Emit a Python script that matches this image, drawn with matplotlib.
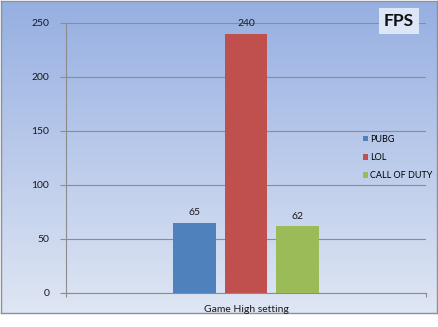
import numpy as np
import matplotlib
matplotlib.use("Agg")
import matplotlib.pyplot as plt
from matplotlib.colors import LinearSegmentedColormap

# Data
category = "Game High setting"
series_names = ["PUBG", "LOL", "CALL OF DUTY"]
series_values = [65, 240, 62]
series_colors = ["#4f81bd", "#c0504d", "#9bbb59"]
y_ticks = [0, 50, 100, 150, 200, 250]
title = "FPS"

plt.rcParams['font.family'] = ['Lato', 'DejaVu Sans']

W, H = 439, 327
fig = plt.figure(figsize=(W / 100, H / 100), dpi=100)
fig.patch.set_facecolor("white")

# Background gradient panel with border
bx0, by0, bx1, by1 = 1, 1, 437, 313  # pixel box (top-left origin)
bg = fig.add_axes([bx0 / W, 1 - by1 / H, (bx1 - bx0) / W, (by1 - by0) / H], zorder=0)
cmap = LinearSegmentedColormap.from_list("g", ["#96afe1", "#dfe6f4"])
grad = np.linspace(0, 1, 256).reshape(-1, 1)
bg.imshow(grad, aspect="auto", cmap=cmap, extent=[0, 1, 0, 1], origin="upper")
bg.set_xticks([]); bg.set_yticks([])
for s in bg.spines.values():
    s.set_color("#8c9099"); s.set_linewidth(1.0)

# Plot axes
px0, px1 = 66, 426
py_top, py_bot = 23, 293
ax = fig.add_axes([px0 / W, 1 - py_bot / H, (px1 - px0) / W, (py_bot - py_top) / H], zorder=1)
ax.patch.set_alpha(0)

width = 0.119
step = 0.142
n = len(series_values)
for i, (name, v, c) in enumerate(zip(series_names, series_values, series_colors)):
    x = (i - (n - 1) / 2) * step
    ax.bar(x, v, width=width, color=c, label=name, zorder=3)
    ax.text(x, v + 5, str(v), ha="center", va="bottom", fontsize=7.5, color="#1a1a1a", zorder=4)

ax.set_xlim(-0.5, 0.5)
ax.set_ylim(0, 250)
ax.set_yticks(y_ticks)
ax.set_yticklabels([str(t) for t in y_ticks], fontsize=7.5, color="#1a1a1a")
ax.set_xticks([-0.5, 0.5])
ax.set_xticklabels(["", ""])
ax.tick_params(axis="y", length=4, color="#8c8c8c", width=0.8, pad=8)
ax.tick_params(axis="x", length=3, color="#8c8c8c", width=0.8)
ax.text(0.0, -0.045, category, transform=ax.get_xaxis_transform(), ha="center", va="top",
        fontsize=7.5, color="#1a1a1a")
ax.grid(axis="y", color="#8c8c8c", linewidth=0.8, zorder=1)
for side in ["top", "right"]:
    ax.spines[side].set_visible(False)
for side in ["left", "bottom"]:
    ax.spines[side].set_color("#8c8c8c"); ax.spines[side].set_linewidth(0.8)

leg = ax.legend(loc="upper left", bbox_to_anchor=((359 - px0) / (px1 - px0), 1 - (131 - py_top) / (py_bot - py_top)),
                frameon=False, handlelength=0.6, handleheight=0.6,
                handletextpad=0.25, labelspacing=1.02, borderaxespad=0,
                prop=dict(size=6.5))

fig.text(399 / W, 1 - 21 / H, title, ha="center", va="center", fontsize=12.5, fontweight="bold",
         color="#111111", zorder=5,
         bbox=dict(boxstyle="square,pad=0.3", facecolor="#dde6f6", edgecolor="none"))

fig.savefig("out.png", dpi=100)
